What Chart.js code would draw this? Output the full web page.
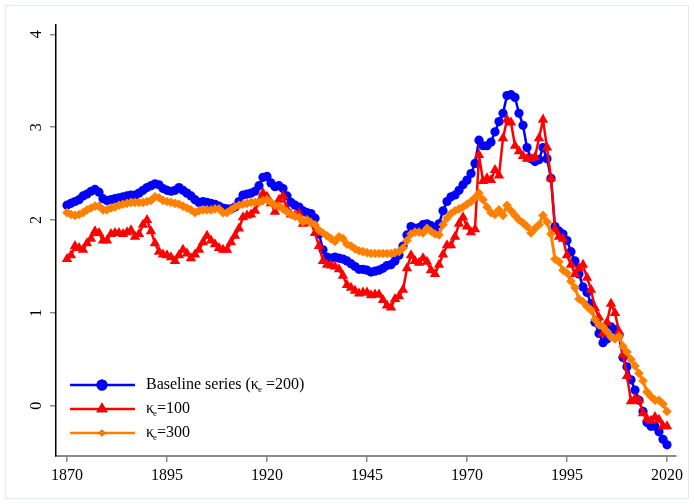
<!DOCTYPE html>
<html>
<head>
<meta charset="utf-8">
<script src="https://cdn.jsdelivr.net/npm/chart.js@4/dist/chart.umd.min.js"></script>
<style>
  html, body { margin: 0; padding: 0; background: #fff; }
  canvas { display: block; }
</style>
</head>
<body>
<canvas id="c" width="694" height="504"></canvas>
<script>
// Years covered by the series (annual observations)
const firstYear = 1870;
const lastYear = 2020;
const years = Array.from({ length: lastYear - firstYear + 1 }, (_, i) => firstYear + i);

// Axis tick labels
const xTickYears = [1870, 1895, 1920, 1945, 1970, 1995, 2020];
const yTickValues = [0, 1, 2, 3, 4];

// Legend labels ("_e" marks a subscript e)
const seriesLabels = ['Baseline series (κ_e =200)', 'κ_e=100', 'κ_e=300'];

// Baseline series, kappa_e = 200
const baseline = [
  2.16, 2.18, 2.20, 2.22, 2.26, 2.28, 2.31, 2.33, 2.30, 2.23,
  2.21, 2.22, 2.23, 2.24, 2.25, 2.26, 2.27, 2.27, 2.29, 2.32,
  2.35, 2.37, 2.39, 2.38, 2.34, 2.32, 2.31, 2.32, 2.35, 2.32,
  2.29, 2.26, 2.22, 2.19, 2.20, 2.19, 2.18, 2.17, 2.15, 2.13,
  2.12, 2.12, 2.14, 2.20, 2.27, 2.28, 2.29, 2.31, 2.37, 2.46,
  2.47, 2.40, 2.36, 2.37, 2.34, 2.26, 2.19, 2.16, 2.14, 2.10,
  2.08, 2.07, 2.02, 1.85, 1.68, 1.60, 1.59, 1.60, 1.59, 1.58,
  1.56, 1.53, 1.50, 1.47, 1.47, 1.46, 1.44, 1.45, 1.46, 1.48,
  1.51, 1.52, 1.56, 1.62, 1.72, 1.84, 1.93, 1.91, 1.92, 1.95,
  1.96, 1.94, 1.88, 1.96, 2.10, 2.20, 2.25, 2.27, 2.32, 2.38,
  2.43, 2.50, 2.61, 2.86, 2.80, 2.80, 2.84, 2.95, 3.06, 3.15,
  3.34, 3.35, 3.32, 3.15, 3.02, 2.78, 2.66, 2.63, 2.65, 2.78,
  2.66, 2.45, 1.93, 1.88, 1.85, 1.78, 1.66, 1.56, 1.42, 1.28,
  1.22, 1.10, 0.90, 0.78, 0.68, 0.72, 0.85, 0.82, 0.76, 0.52,
  0.42, 0.28, 0.17, 0.06, -0.06, -0.18, -0.22, -0.22, -0.28, -0.36,
  -0.42
];

// kappa_e = 100
const kappa100 = [
  1.58, 1.62, 1.72, 1.70, 1.68, 1.75, 1.80, 1.88, 1.86, 1.78,
  1.78, 1.85, 1.86, 1.86, 1.85, 1.87, 1.89, 1.82, 1.85, 1.95,
  2.00, 1.88, 1.75, 1.66, 1.63, 1.62, 1.60, 1.56, 1.62, 1.68,
  1.64, 1.59, 1.63, 1.68, 1.76, 1.83, 1.78, 1.74, 1.70, 1.68,
  1.68, 1.76, 1.83, 1.91, 2.03, 2.05, 2.06, 2.10, 2.20, 2.29,
  2.25, 2.18, 2.09, 2.22, 2.26, 2.12, 2.06, 2.05, 2.07, 1.96,
  2.00, 1.97, 1.86, 1.72, 1.56, 1.52, 1.51, 1.50, 1.47, 1.40,
  1.30, 1.27, 1.24, 1.21, 1.22, 1.22, 1.19, 1.20, 1.20, 1.14,
  1.08, 1.06, 1.15, 1.18, 1.25, 1.48, 1.62, 1.56, 1.54, 1.59,
  1.55, 1.46, 1.42, 1.52, 1.63, 1.73, 1.73, 1.82, 1.96, 2.03,
  1.93, 1.87, 1.90, 2.70, 2.42, 2.45, 2.43, 2.54, 2.48, 2.88,
  3.08, 3.05, 2.80, 2.74, 2.69, 2.66, 2.66, 2.68, 2.88, 3.08,
  2.78, 2.45, 1.90, 1.82, 1.80, 1.62, 1.52, 1.42, 1.48, 1.52,
  1.38, 1.25, 1.05, 0.95, 0.78, 0.90, 1.10, 1.00, 0.80, 0.55,
  0.32, 0.05, 0.08, 0.06, -0.08, -0.14, -0.16, -0.12, -0.15, -0.22,
  -0.22
];

// kappa_e = 300
const kappa300 = [
  2.08, 2.06, 2.05, 2.06, 2.08, 2.11, 2.13, 2.15, 2.15, 2.11,
  2.11, 2.13, 2.14, 2.16, 2.17, 2.18, 2.19, 2.19, 2.19, 2.19,
  2.20, 2.21, 2.25, 2.24, 2.21, 2.20, 2.19, 2.18, 2.17, 2.15,
  2.13, 2.11, 2.08, 2.10, 2.11, 2.11, 2.11, 2.12, 2.12, 2.08,
  2.08, 2.11, 2.14, 2.16, 2.17, 2.18, 2.19, 2.19, 2.19, 2.21,
  2.22, 2.19, 2.16, 2.15, 2.12, 2.09, 2.06, 2.04, 2.03, 1.98,
  2.00, 1.97, 1.95, 1.89, 1.86, 1.83, 1.80, 1.77, 1.82, 1.80,
  1.74, 1.72, 1.69, 1.67, 1.66, 1.65, 1.64, 1.64, 1.64, 1.64,
  1.64, 1.64, 1.65, 1.66, 1.70, 1.78, 1.85, 1.87, 1.87, 1.86,
  1.91, 1.88, 1.85, 1.84, 1.95, 2.02, 2.07, 2.10, 2.12, 2.14,
  2.17, 2.20, 2.24, 2.29, 2.22, 2.14, 2.08, 2.06, 2.11, 2.05,
  2.16, 2.10, 2.05, 2.00, 1.97, 1.93, 1.86, 1.91, 1.95, 2.05,
  1.98, 1.85, 1.58, 1.55, 1.46, 1.43, 1.34, 1.27, 1.15, 1.12,
  1.07, 1.03, 0.93, 0.87, 0.85, 0.80, 0.74, 0.72, 0.75, 0.64,
  0.58, 0.50, 0.43, 0.35, 0.27, 0.15, 0.10, 0.06, 0.06, 0.02,
  -0.06
];

const seriesValues = [baseline, kappa100, kappa300];
const seriesColors = ['#0000ff', '#ff0000', '#ff8000'];
const seriesMarkers = ['circle', 'triangle', 'rectRot'];
const markerRadii = [4.6, 6, 4.8];
const legendMarkerRadii = [5.5, 6.5, 3.6];

const FONT = "'Liberation Serif', 'Times New Roman', serif";
Chart.defaults.font.family = FONT;
Chart.defaults.font.size = 16;
Chart.defaults.color = '#000';

// Legend drawn as line + marker samples with a subscripted label
const legendPlugin = {
  id: 'lineLegend',
  afterDatasetsDraw(chart) {
    const ctx = chart.ctx;
    const rows = [385, 409, 433];
    const x0 = 70, x1 = 135, xm = 102, xt = 146;
    ctx.save();
    chart.data.datasets.forEach((ds, i) => {
      const y = rows[i];
      ctx.strokeStyle = ds.borderColor;
      ctx.lineWidth = 2.5;
      ctx.beginPath();
      ctx.moveTo(x0, y);
      ctx.lineTo(x1, y);
      ctx.stroke();
      Chart.helpers.drawPoint(ctx, {
        pointStyle: ds.pointStyle,
        radius: legendMarkerRadii[i],
        rotation: 0,
        borderWidth: 0
      }, xm, y);
      ctx.fillStyle = ds.borderColor;
      ctx.fill();

      // label text with "_e" rendered as a lowered small e
      const parts = seriesLabels[i].split('_e');
      let x = xt;
      ctx.fillStyle = '#000';
      ctx.textBaseline = 'middle';
      ctx.textAlign = 'left';
      parts.forEach((p, k) => {
        ctx.font = '16px ' + FONT;
        ctx.fillText(p, x, y);
        x += ctx.measureText(p).width;
        if (k < parts.length - 1) {
          ctx.font = '9px ' + FONT;
          ctx.fillText('e', x - 1, y + 5);
          x += ctx.measureText('e').width - 1;
        }
      });
    });
    ctx.restore();
  }
};

// White page with a faint outer frame
const pagePlugin = {
  id: 'page',
  beforeDraw(chart) {
    const ctx = chart.ctx;
    ctx.save();
    ctx.fillStyle = '#fff';
    ctx.fillRect(0, 0, chart.width, chart.height);
    ctx.strokeStyle = '#e3ebee';
    ctx.lineWidth = 1;
    ctx.strokeRect(5.5, 5.5, chart.width - 11, chart.height - 11);
    ctx.restore();
  }
};

const datasets = seriesValues.map((vals, i) => ({
  label: seriesLabels[i],
  data: years.map((yr, k) => ({ x: yr, y: vals[k] })),
  borderColor: seriesColors[i],
  backgroundColor: seriesColors[i],
  pointBackgroundColor: seriesColors[i],
  pointBorderColor: seriesColors[i],
  pointBorderWidth: 0,
  pointStyle: seriesMarkers[i],
  pointRadius: markerRadii[i],
  borderWidth: i === 2 ? 3 : 2.5,
  tension: 0,
  order: 2 - i
}));

new Chart(document.getElementById('c'), {
  type: 'line',
  data: { datasets },
  plugins: [pagePlugin, legendPlugin],
  options: {
    responsive: false,
    animation: false,
    devicePixelRatio: 1,
    layout: { padding: { top: 25, right: 18, left: 0, bottom: 0 } },
    plugins: { legend: { display: false }, tooltip: { enabled: false } },
    scales: {
      x: {
        type: 'linear',
        min: 1867.25,
        max: 2022.25,
        afterBuildTicks(scale) { scale.ticks = xTickYears.map(v => ({ value: v })); },
        afterFit(scale) { scale.height = 48; },
        border: { display: true, color: '#8a8a8a', width: 2 },
        grid: { drawOnChartArea: false, drawTicks: true, tickLength: 6, color: '#8a8a8a', lineWidth: 1.5 },
        ticks: { padding: 4, maxRotation: 0, minRotation: 0, color: '#000', callback: v => String(v) }
      },
      y: {
        type: 'linear',
        min: -0.54,
        max: 4.1,
        afterBuildTicks(scale) { scale.ticks = yTickValues.map(v => ({ value: v })); },
        afterFit(scale) { scale.width = 56; },
        border: { display: true, color: '#000', width: 1.5 },
        grid: { drawOnChartArea: false, drawTicks: true, tickLength: 6, color: '#8a8a8a', lineWidth: 1.5 },
        ticks: { padding: 9, minRotation: 90, maxRotation: 90, crossAlign: 'center', color: '#000', callback: v => String(v) }
      }
    }
  }
});
</script>
</body>
</html>
